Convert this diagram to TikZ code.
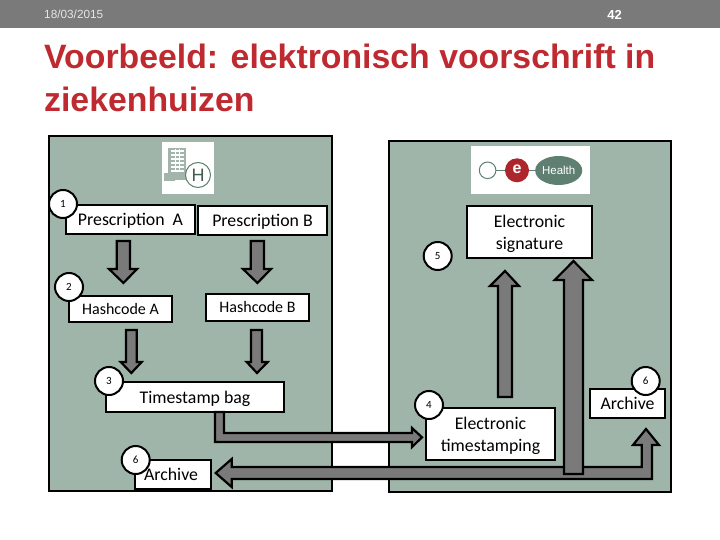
\documentclass[tikz,border=0pt]{standalone}
\usepackage{fontspec}
\setmainfont{Carlito}
\newfontfamily\arialf{Liberation Sans}
\usetikzlibrary{calc,shapes.geometric}
\definecolor{panelc}{HTML}{A0B5AA}
\definecolor{barc}{HTML}{7A7A7A}
\definecolor{titlec}{HTML}{BF2A30}
\definecolor{logoc}{HTML}{5F8070}
\definecolor{bldc}{HTML}{A3B5AB}
\tikzset{
  panel/.style={draw=black,line width=2pt,fill=panelc},
  wbox/.style={draw=black,line width=2pt,fill=white,inner sep=0pt,align=center,font=\fontsize{17.8}{22}\selectfont},
  hbox/.style={wbox,font=\fontsize{16}{22}\selectfont},
  num/.style={circle,draw=black,line width=2pt,fill=white,minimum size=28pt,inner sep=0pt,font=\fontsize{11}{11}\selectfont},
  fatarrow/.style={draw=black,line width=2.2pt,fill=barc,miter limit=10},
}
\newcommand{\dn}[1]{\raisebox{-1.5pt}[\height][\depth]{#1}}
\newcommand{\bx}[7][wbox]{\node[#1,minimum width=#5pt-#3pt,minimum height=#6pt-#4pt] (#2) at ({(#3+#5)/2},{(#4+#6)/2}) {#7};}
\begin{document}
\begin{tikzpicture}[x=1pt,y=-1pt]
\useasboundingbox (0,0) rectangle (720,540);
\fill[white] (0,0) rectangle (720,540);
\fill[barc] (0,0) rectangle (720,28);
\node[anchor=west,inner sep=0pt,text=white!90!black,font=\arialf\fontsize{11.8}{12}\selectfont] (date) at (44,14.5) {18/03/2015};
\node[anchor=center,inner sep=0pt,text=white,font=\arialf\bfseries\fontsize{13}{13}\selectfont] (page) at (614.5,15) {42};
\node[anchor=north west,inner sep=0pt,text=titlec,align=left,font=\arialf\bfseries\fontsize{33.8}{43}\selectfont] (title) at (44,44) {Voorbeeld: elektronisch voorschrift in\\ziekenhuizen};
\draw[panel] (49,136) rectangle (332,491);
\draw[panel] (389,141) rectangle (671,492);
% hospital logo
\fill[white] (162,142) rectangle (214,194);
\fill[bldc] (168,148) rectangle (186,180);
\fill[bldc] (164,173) rectangle (175,181);
\foreach \wy in {150,154,...,170}{\fill[white] (170.5,\wy) rectangle (183.5,\wy+1.6);}
\foreach \wx in {174.5,179}{\fill[white] (\wx,149) rectangle (\wx+1,172);}
\draw[logoc,line width=1pt,fill=white] (198,175) circle (12.5);
\node[inner sep=0pt,text=logoc!70!black,font=\arialf\fontsize{18}{18}\selectfont] (hosp) at (198,175) {H};
% ehealth logo
\fill[white] (471,146) rectangle (590,194);
\draw[logoc,line width=1pt] (487.6,170.3) -- (558,170.3);
\draw[logoc,line width=1pt,fill=white] (487.6,170.3) circle (8.3);
\fill[titlec!90!black] (517,170.3) circle (12);
\node[inner sep=0pt,text=white,font=\arialf\bfseries\fontsize{16}{16}\selectfont] (elogo) at (517,169) {e};
\node[draw=none,fill=logoc,ellipse,inner sep=0pt,minimum width=44pt,minimum height=29pt,text=white,font=\arialf\fontsize{11.5}{11.5}\selectfont] (hlogo) at (558.7,170.5) {Health};
% boxes
\bx{pa}{66}{205}{195}{234}{\dn{Prescription\ \ A}}
\bx{pb}{198}{206}{327}{235}{\dn{Prescription B}}
\bx[hbox]{ha}{69}{296}{172}{322}{Hashcode A}
\bx[hbox]{hb}{206}{294}{309}{321}{Hashcode B}
\bx{ts}{106}{382}{284}{412}{\dn{Timestamp bag}}
\bx{ar}{135}{460}{211}{489}{}
\bx{es}{467}{206}{592}{258}{\dn{Electronic}\\\dn{signature}}
\bx{et}{426}{408}{555}{460}{\dn{Electronic}\\\dn{timestamping}}
\bx{ar2}{590}{389}{665}{418}{Archive}
% straight down arrows
\draw[fatarrow] (116.7,241) -- (130,241) -- (130,269) -- (137,269) -- (123.4,283) -- (109,269) -- (116.7,269) -- cycle;
\draw[fatarrow] (250.7,241) -- (264,241) -- (264,269) -- (271,269) -- (257.4,283) -- (243,269) -- (250.7,269) -- cycle;
\draw[fatarrow] (126,330) -- (136.7,330) -- (136.7,362) -- (141.7,362) -- (131.3,373) -- (120.7,362) -- (126,362) -- cycle;
\draw[fatarrow] (251,330) -- (262,330) -- (262,362) -- (267.7,362) -- (257,373) -- (246.7,362) -- (251,362) -- cycle;
% elbow to timestamping
\draw[fatarrow] (215,412) -- (224,412) -- (224,433) -- (412,433) -- (412,428) -- (422,437.3) -- (412,447) -- (412,442) -- (215,442) -- cycle;
% long double arrow
\draw[fatarrow] (215.7,473) -- (231.7,459) -- (231.7,467) -- (641.7,467) -- (641.7,445) -- (633,445) -- (646,429) -- (659,445) -- (652,445) -- (652,479) -- (231.7,479) -- (231.7,487) -- cycle;
% up arrows
\draw[fatarrow] (498,397) -- (498,286) -- (490,286) -- (505,271) -- (519,286) -- (512,286) -- (512,397) -- cycle;
\draw[fatarrow] (564,474) -- (564,280) -- (554.7,280) -- (573.5,261) -- (592,280) -- (583,280) -- (583,474) -- cycle;
% numbered circles
\node[num] (n1) at (63,204) {1};
\node[num] (n2) at (69,287) {2};
\node[num] (n3) at (109,381) {3};
\node[num] (n6a) at (135.7,460) {6};
\node[num] (n5) at (437.7,256) {5};
\node[num] (n4) at (429,405) {4};
\node[num] (n6b) at (645.7,381) {6};
\node[inner sep=0pt,font=\fontsize{17.8}{18}\selectfont] (artext) at (171,474.5) {Archive};
\end{tikzpicture}
\end{document}
